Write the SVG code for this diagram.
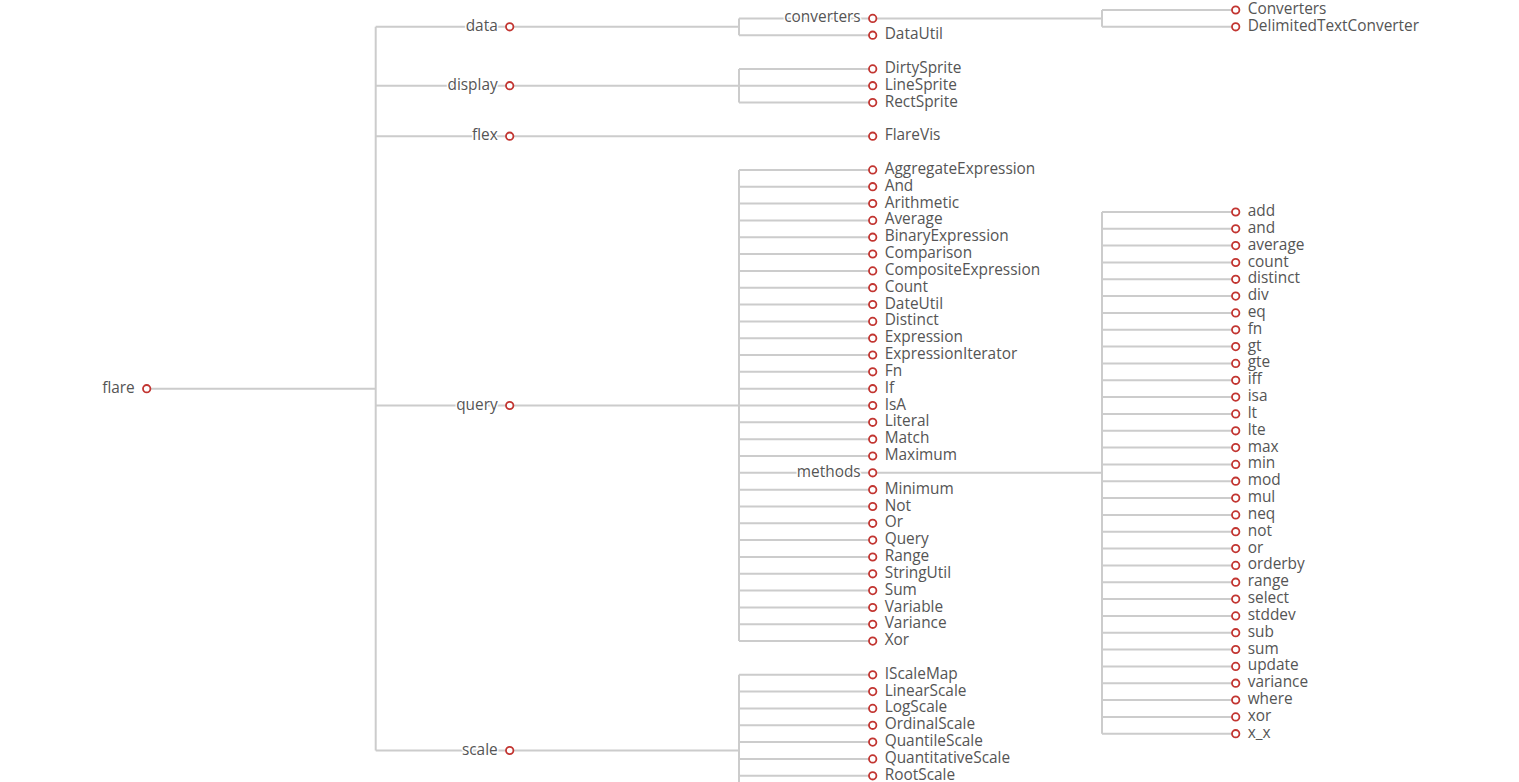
<svg xmlns="http://www.w3.org/2000/svg" width="1519" height="782" viewBox="0 0 1519 782">
<style>
.e{fill:none;stroke:#ccc;stroke-width:2}
.n circle{fill:#fff;stroke:#c23531;stroke-width:1.8}
.n text{font-family:"Open Sans","Noto Sans","Liberation Sans",sans-serif;font-size:15.4px;fill:#555}
.n text.l{text-anchor:start}
.n text.p{text-anchor:end;stroke:#fff;stroke-width:3;paint-order:stroke;stroke-linejoin:round}
</style>
<rect width="1519" height="782" fill="#fff"/>
<g id="connectors">
<path class="e" d="M146.7 388.7H375.7M375.7 26.8V750.5M375.7 26.8H509.7M375.7 85.7H509.7M375.7 136.2H509.7M375.7 405.5H509.7M375.7 750.5H509.7"/>
<path class="e" d="M509.7 26.8H739M739 18.4V35.2M739 18.4H872.7M739 35.2H872.7"/>
<path class="e" d="M509.7 85.7H739M739 68.9V102.6M739 68.9H872.7M739 85.7H872.7M739 102.6H872.7"/>
<path class="e" d="M509.7 136.2H872.7"/>
<path class="e" d="M509.7 405.5H739M739 169.9V641.1M739 169.9H872.7M739 186.7H872.7M739 203.5H872.7M739 220.4H872.7M739 237.2H872.7M739 254H872.7M739 270.9H872.7M739 287.7H872.7M739 304.5H872.7M739 321.4H872.7M739 338.2H872.7M739 355H872.7M739 371.8H872.7M739 388.7H872.7M739 405.5H872.7M739 422.3H872.7M739 439.2H872.7M739 456H872.7M739 472.8H872.7M739 489.7H872.7M739 506.5H872.7M739 523.3H872.7M739 540.1H872.7M739 557H872.7M739 573.8H872.7M739 590.6H872.7M739 607.5H872.7M739 624.3H872.7M739 641.1H872.7"/>
<path class="e" d="M509.7 750.5H739M739 674.8V790M739 674.8H872.7M739 691.6H872.7M739 708.4H872.7M739 725.3H872.7M739 742.1H872.7M739 758.9H872.7M739 775.8H872.7"/>
<path class="e" d="M872.7 18.4H1102M1102 10V26.8M1102 10H1235.7M1102 26.8H1235.7"/>
<path class="e" d="M872.7 472.8H1102M1102 212V733.7M1102 212H1235.7M1102 228.8H1235.7M1102 245.6H1235.7M1102 262.5H1235.7M1102 279.3H1235.7M1102 296.1H1235.7M1102 312.9H1235.7M1102 329.8H1235.7M1102 346.6H1235.7M1102 363.4H1235.7M1102 380.3H1235.7M1102 397.1H1235.7M1102 413.9H1235.7M1102 430.8H1235.7M1102 447.6H1235.7M1102 464.4H1235.7M1102 481.2H1235.7M1102 498.1H1235.7M1102 514.9H1235.7M1102 531.7H1235.7M1102 548.6H1235.7M1102 565.4H1235.7M1102 582.2H1235.7M1102 599.1H1235.7M1102 615.9H1235.7M1102 632.7H1235.7M1102 649.5H1235.7M1102 666.4H1235.7M1102 683.2H1235.7M1102 700H1235.7M1102 716.9H1235.7M1102 733.7H1235.7"/>
</g>
<g id="flare" class="n"><circle cx="146.7" cy="388.7" r="3.7"/><text class="p" x="134.7" y="392.7">flare</text></g>
<g id="data" class="n"><circle cx="509.7" cy="26.8" r="3.7"/><text class="p" x="497.7" y="30.8">data</text></g>
<g id="display" class="n"><circle cx="509.7" cy="85.7" r="3.7"/><text class="p" x="497.7" y="89.7">display</text></g>
<g id="flex" class="n"><circle cx="509.7" cy="136.2" r="3.7"/><text class="p" x="497.7" y="140.2">flex</text></g>
<g id="query" class="n"><circle cx="509.7" cy="405.5" r="3.7"/><text class="p" x="497.7" y="409.5">query</text></g>
<g id="scale" class="n"><circle cx="509.7" cy="750.5" r="3.7"/><text class="p" x="497.7" y="754.5">scale</text></g>
<g id="converters" class="n"><circle cx="872.7" cy="18.4" r="3.7"/><text class="p" x="860.7" y="22.4">converters</text></g>
<g id="DataUtil" class="n"><circle cx="872.7" cy="35.2" r="3.7"/><text class="l" x="884.7" y="39.2">DataUtil</text></g>
<g id="DirtySprite" class="n"><circle cx="872.7" cy="68.9" r="3.7"/><text class="l" x="884.7" y="72.9">DirtySprite</text></g>
<g id="LineSprite" class="n"><circle cx="872.7" cy="85.7" r="3.7"/><text class="l" x="884.7" y="89.7">LineSprite</text></g>
<g id="RectSprite" class="n"><circle cx="872.7" cy="102.6" r="3.7"/><text class="l" x="884.7" y="106.6">RectSprite</text></g>
<g id="FlareVis" class="n"><circle cx="872.7" cy="136.2" r="3.7"/><text class="l" x="884.7" y="140.2">FlareVis</text></g>
<g id="AggregateExpression" class="n"><circle cx="872.7" cy="169.9" r="3.7"/><text class="l" x="884.7" y="173.9">AggregateExpression</text></g>
<g id="And" class="n"><circle cx="872.7" cy="186.7" r="3.7"/><text class="l" x="884.7" y="190.7">And</text></g>
<g id="Arithmetic" class="n"><circle cx="872.7" cy="203.5" r="3.7"/><text class="l" x="884.7" y="207.5">Arithmetic</text></g>
<g id="Average" class="n"><circle cx="872.7" cy="220.4" r="3.7"/><text class="l" x="884.7" y="224.4">Average</text></g>
<g id="BinaryExpression" class="n"><circle cx="872.7" cy="237.2" r="3.7"/><text class="l" x="884.7" y="241.2">BinaryExpression</text></g>
<g id="Comparison" class="n"><circle cx="872.7" cy="254" r="3.7"/><text class="l" x="884.7" y="258">Comparison</text></g>
<g id="CompositeExpression" class="n"><circle cx="872.7" cy="270.9" r="3.7"/><text class="l" x="884.7" y="274.9">CompositeExpression</text></g>
<g id="Count" class="n"><circle cx="872.7" cy="287.7" r="3.7"/><text class="l" x="884.7" y="291.7">Count</text></g>
<g id="DateUtil" class="n"><circle cx="872.7" cy="304.5" r="3.7"/><text class="l" x="884.7" y="308.5">DateUtil</text></g>
<g id="Distinct" class="n"><circle cx="872.7" cy="321.4" r="3.7"/><text class="l" x="884.7" y="325.4">Distinct</text></g>
<g id="Expression" class="n"><circle cx="872.7" cy="338.2" r="3.7"/><text class="l" x="884.7" y="342.2">Expression</text></g>
<g id="ExpressionIterator" class="n"><circle cx="872.7" cy="355" r="3.7"/><text class="l" x="884.7" y="359">ExpressionIterator</text></g>
<g id="Fn" class="n"><circle cx="872.7" cy="371.8" r="3.7"/><text class="l" x="884.7" y="375.8">Fn</text></g>
<g id="If" class="n"><circle cx="872.7" cy="388.7" r="3.7"/><text class="l" x="884.7" y="392.7">If</text></g>
<g id="IsA" class="n"><circle cx="872.7" cy="405.5" r="3.7"/><text class="l" x="884.7" y="409.5">IsA</text></g>
<g id="Literal" class="n"><circle cx="872.7" cy="422.3" r="3.7"/><text class="l" x="884.7" y="426.3">Literal</text></g>
<g id="Match" class="n"><circle cx="872.7" cy="439.2" r="3.7"/><text class="l" x="884.7" y="443.2">Match</text></g>
<g id="Maximum" class="n"><circle cx="872.7" cy="456" r="3.7"/><text class="l" x="884.7" y="460">Maximum</text></g>
<g id="methods" class="n"><circle cx="872.7" cy="472.8" r="3.7"/><text class="p" x="860.7" y="476.8">methods</text></g>
<g id="Minimum" class="n"><circle cx="872.7" cy="489.7" r="3.7"/><text class="l" x="884.7" y="493.7">Minimum</text></g>
<g id="Not" class="n"><circle cx="872.7" cy="506.5" r="3.7"/><text class="l" x="884.7" y="510.5">Not</text></g>
<g id="Or" class="n"><circle cx="872.7" cy="523.3" r="3.7"/><text class="l" x="884.7" y="527.3">Or</text></g>
<g id="Query" class="n"><circle cx="872.7" cy="540.1" r="3.7"/><text class="l" x="884.7" y="544.1">Query</text></g>
<g id="Range" class="n"><circle cx="872.7" cy="557" r="3.7"/><text class="l" x="884.7" y="561">Range</text></g>
<g id="StringUtil" class="n"><circle cx="872.7" cy="573.8" r="3.7"/><text class="l" x="884.7" y="577.8">StringUtil</text></g>
<g id="Sum" class="n"><circle cx="872.7" cy="590.6" r="3.7"/><text class="l" x="884.7" y="594.6">Sum</text></g>
<g id="Variable" class="n"><circle cx="872.7" cy="607.5" r="3.7"/><text class="l" x="884.7" y="611.5">Variable</text></g>
<g id="Variance" class="n"><circle cx="872.7" cy="624.3" r="3.7"/><text class="l" x="884.7" y="628.3">Variance</text></g>
<g id="Xor" class="n"><circle cx="872.7" cy="641.1" r="3.7"/><text class="l" x="884.7" y="645.1">Xor</text></g>
<g id="IScaleMap" class="n"><circle cx="872.7" cy="674.8" r="3.7"/><text class="l" x="884.7" y="678.8">IScaleMap</text></g>
<g id="LinearScale" class="n"><circle cx="872.7" cy="691.6" r="3.7"/><text class="l" x="884.7" y="695.6">LinearScale</text></g>
<g id="LogScale" class="n"><circle cx="872.7" cy="708.4" r="3.7"/><text class="l" x="884.7" y="712.4">LogScale</text></g>
<g id="OrdinalScale" class="n"><circle cx="872.7" cy="725.3" r="3.7"/><text class="l" x="884.7" y="729.3">OrdinalScale</text></g>
<g id="QuantileScale" class="n"><circle cx="872.7" cy="742.1" r="3.7"/><text class="l" x="884.7" y="746.1">QuantileScale</text></g>
<g id="QuantitativeScale" class="n"><circle cx="872.7" cy="758.9" r="3.7"/><text class="l" x="884.7" y="762.9">QuantitativeScale</text></g>
<g id="RootScale" class="n"><circle cx="872.7" cy="775.8" r="3.7"/><text class="l" x="884.7" y="779.8">RootScale</text></g>
<g id="Converters" class="n"><circle cx="1235.7" cy="10" r="3.7"/><text class="l" x="1247.7" y="14">Converters</text></g>
<g id="DelimitedTextConverter" class="n"><circle cx="1235.7" cy="26.8" r="3.7"/><text class="l" x="1247.7" y="30.8">DelimitedTextConverter</text></g>
<g id="m-add" class="n"><circle cx="1235.7" cy="212" r="3.7"/><text class="l" x="1247.7" y="216">add</text></g>
<g id="m-and" class="n"><circle cx="1235.7" cy="228.8" r="3.7"/><text class="l" x="1247.7" y="232.8">and</text></g>
<g id="m-average" class="n"><circle cx="1235.7" cy="245.6" r="3.7"/><text class="l" x="1247.7" y="249.6">average</text></g>
<g id="m-count" class="n"><circle cx="1235.7" cy="262.5" r="3.7"/><text class="l" x="1247.7" y="266.5">count</text></g>
<g id="m-distinct" class="n"><circle cx="1235.7" cy="279.3" r="3.7"/><text class="l" x="1247.7" y="283.3">distinct</text></g>
<g id="m-div" class="n"><circle cx="1235.7" cy="296.1" r="3.7"/><text class="l" x="1247.7" y="300.1">div</text></g>
<g id="m-eq" class="n"><circle cx="1235.7" cy="312.9" r="3.7"/><text class="l" x="1247.7" y="316.9">eq</text></g>
<g id="m-fn" class="n"><circle cx="1235.7" cy="329.8" r="3.7"/><text class="l" x="1247.7" y="333.8">fn</text></g>
<g id="m-gt" class="n"><circle cx="1235.7" cy="346.6" r="3.7"/><text class="l" x="1247.7" y="350.6">gt</text></g>
<g id="m-gte" class="n"><circle cx="1235.7" cy="363.4" r="3.7"/><text class="l" x="1247.7" y="367.4">gte</text></g>
<g id="m-iff" class="n"><circle cx="1235.7" cy="380.3" r="3.7"/><text class="l" x="1247.7" y="384.3">iff</text></g>
<g id="m-isa" class="n"><circle cx="1235.7" cy="397.1" r="3.7"/><text class="l" x="1247.7" y="401.1">isa</text></g>
<g id="m-lt" class="n"><circle cx="1235.7" cy="413.9" r="3.7"/><text class="l" x="1247.7" y="417.9">lt</text></g>
<g id="m-lte" class="n"><circle cx="1235.7" cy="430.8" r="3.7"/><text class="l" x="1247.7" y="434.8">lte</text></g>
<g id="m-max" class="n"><circle cx="1235.7" cy="447.6" r="3.7"/><text class="l" x="1247.7" y="451.6">max</text></g>
<g id="m-min" class="n"><circle cx="1235.7" cy="464.4" r="3.7"/><text class="l" x="1247.7" y="468.4">min</text></g>
<g id="m-mod" class="n"><circle cx="1235.7" cy="481.2" r="3.7"/><text class="l" x="1247.7" y="485.2">mod</text></g>
<g id="m-mul" class="n"><circle cx="1235.7" cy="498.1" r="3.7"/><text class="l" x="1247.7" y="502.1">mul</text></g>
<g id="m-neq" class="n"><circle cx="1235.7" cy="514.9" r="3.7"/><text class="l" x="1247.7" y="518.9">neq</text></g>
<g id="m-not" class="n"><circle cx="1235.7" cy="531.7" r="3.7"/><text class="l" x="1247.7" y="535.7">not</text></g>
<g id="m-or" class="n"><circle cx="1235.7" cy="548.6" r="3.7"/><text class="l" x="1247.7" y="552.6">or</text></g>
<g id="m-orderby" class="n"><circle cx="1235.7" cy="565.4" r="3.7"/><text class="l" x="1247.7" y="569.4">orderby</text></g>
<g id="m-range" class="n"><circle cx="1235.7" cy="582.2" r="3.7"/><text class="l" x="1247.7" y="586.2">range</text></g>
<g id="m-select" class="n"><circle cx="1235.7" cy="599.1" r="3.7"/><text class="l" x="1247.7" y="603.1">select</text></g>
<g id="m-stddev" class="n"><circle cx="1235.7" cy="615.9" r="3.7"/><text class="l" x="1247.7" y="619.9">stddev</text></g>
<g id="m-sub" class="n"><circle cx="1235.7" cy="632.7" r="3.7"/><text class="l" x="1247.7" y="636.7">sub</text></g>
<g id="m-sum" class="n"><circle cx="1235.7" cy="649.5" r="3.7"/><text class="l" x="1247.7" y="653.5">sum</text></g>
<g id="m-update" class="n"><circle cx="1235.7" cy="666.4" r="3.7"/><text class="l" x="1247.7" y="670.4">update</text></g>
<g id="m-variance" class="n"><circle cx="1235.7" cy="683.2" r="3.7"/><text class="l" x="1247.7" y="687.2">variance</text></g>
<g id="m-where" class="n"><circle cx="1235.7" cy="700" r="3.7"/><text class="l" x="1247.7" y="704">where</text></g>
<g id="m-xor" class="n"><circle cx="1235.7" cy="716.9" r="3.7"/><text class="l" x="1247.7" y="720.9">xor</text></g>
<g id="m-x_x" class="n"><circle cx="1235.7" cy="733.7" r="3.7"/><text class="l" x="1247.7" y="737.7">x_x</text></g>
</svg>
